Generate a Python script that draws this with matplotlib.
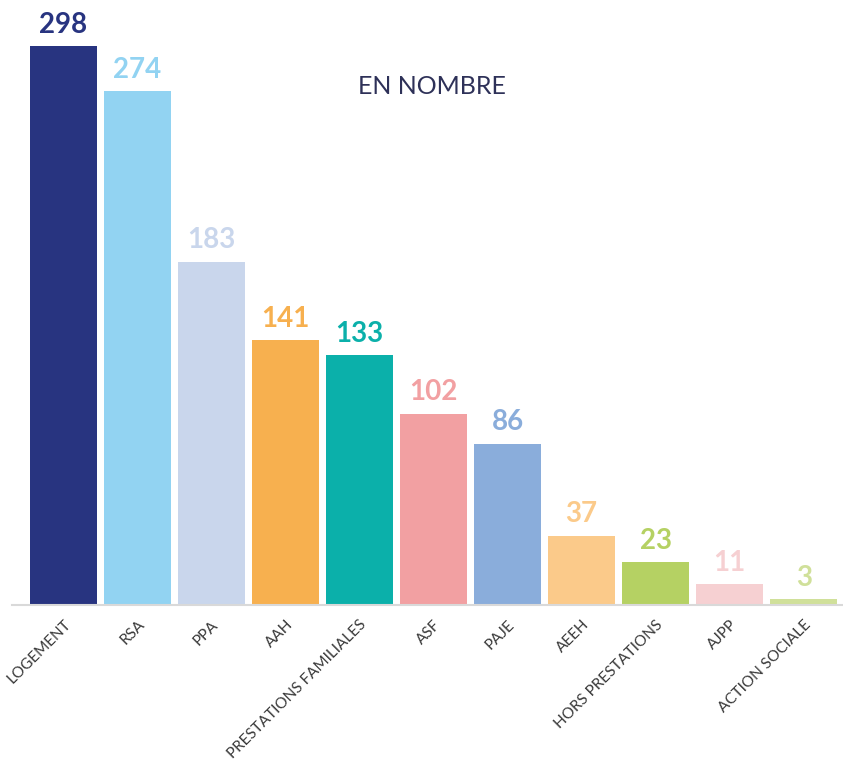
import matplotlib.pyplot as plt

categories = ["LOGEMENT", "RSA", "PPA", "AAH", "PRESTATIONS FAMILIALES", "ASF",
              "PAJE", "AEEH", "HORS PRESTATIONS", "AJPP", "ACTION SOCIALE"]
values = [298, 274, 183, 141, 133, 102, 86, 37, 23, 11, 3]
colors = ["#283480", "#92d3f2", "#c9d6ec", "#f7b04f", "#0bb0aa", "#f2a0a2",
          "#8aaddb", "#fbca8a", "#b5d163", "#f6d0d2", "#d0e09a"]

fig = plt.figure(figsize=(8.43, 7.69), dpi=100)
ax = fig.add_axes([12 / 843, 164 / 769, 831 / 843, 605 / 769])

x = range(len(categories))
ax.bar(x, values, width=0.9, color=colors)
for xi, v, c in zip(x, values, colors):
    ax.annotate(str(v), (xi, v), xytext=(0, 6), textcoords="offset points",
                ha="center", va="bottom", fontsize=20, fontweight="bold",
                color=c, family="Lato")

ax.set_xlim(-0.696, 10.53)
ax.set_ylim(0, 322.5)
ax.set_xticks(list(x))
ax.set_xticklabels(categories, rotation=45, ha="right", rotation_mode="anchor",
                   fontsize=11, color="#3a3a3a", family="Lato")
ax.tick_params(axis="x", length=0, pad=9)
ax.set_yticks([])
for s in ["top", "right", "left"]:
    ax.spines[s].set_visible(False)
ax.spines["bottom"].set_color("#d9d9d9")
ax.spines["bottom"].set_linewidth(1.5)

fig.text(432 / 843, 1 - 86 / 769, "EN NOMBRE", ha="center", va="center",
         fontsize=18, color="#2e3158", family="Lato")

fig.savefig("out.png", dpi=100)
